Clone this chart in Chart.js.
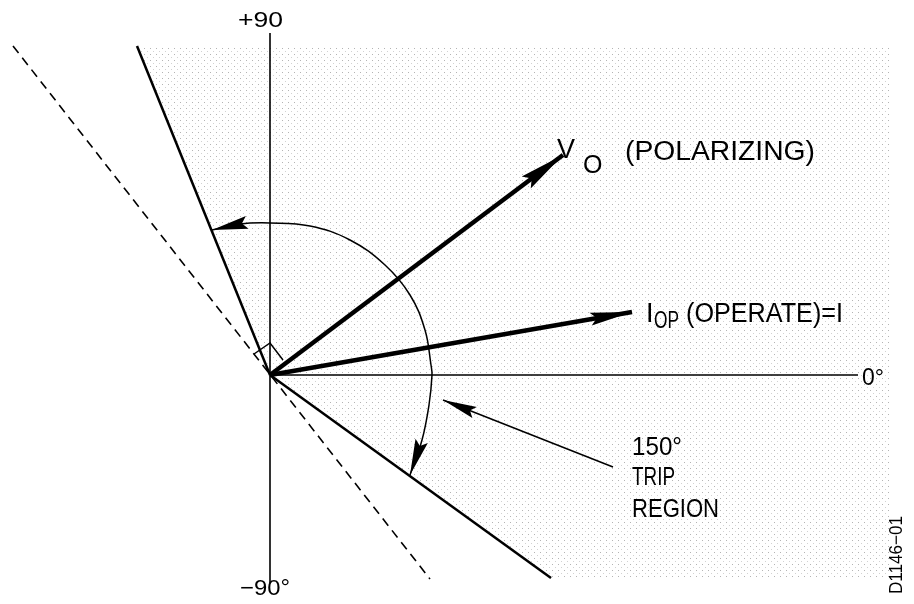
<!DOCTYPE html>
<html>
<head>
<meta charset="utf-8">
<script src="https://cdn.jsdelivr.net/npm/chart.js@4.4.1/dist/chart.umd.min.js"></script>
<style>
  html, body { margin: 0; padding: 0; background: #fff; }
  #wrap { width: 914px; height: 604px; }
</style>
</head>
<body>
<div id="wrap"><canvas id="c"></canvas></div>
<script>
// phasor diagram, origin at the vertex, x right / y up
const hAxis      = [[0, 0], [588, 0]]
const vAxis      = [[0, 342], [0, -208]]
const tripUpper  = [[-133, 329], [0, 0]]
const tripLower  = [[0, 0], [281, -203]]
const zeroTorque = [[-257, 329], [160, -204]]
const vPol       = [[0, 0], [293, 220]]
const iOp        = [[0, 0], [362, 63]]
const tripArc    = [[-58, 145], [-30, 151], [0, 152], [40, 149], [80, 135], [115, 110], [140, 80],
                    [155, 45], [161, 10], [162, 0], [159, -30], [152, -65], [140, -100]]
const pointer    = [[343, -92], [173, -25]]
const rightAngle = [[-16, 21], [0, 32], [13, 15]]
const tripRegion = [[-133, 329], [620, 329], [620, -203], [281, -203], [0, 0]]

// text labels: left x, baseline y (data units)
const labels = [
  { t: "+90", x: -32, y: 348, size: 22, w: 45 },
  { t: "V", x: 287, y: 217, size: 27 },
  { t: "O", x: 313, y: 202, size: 25 },
  { t: "(POLARIZING)", x: 355, y: 215, size: 27, w: 190 },
  { t: "I", x: 376, y: 53, size: 27 },
  { t: "OP", x: 384, y: 47, size: 23, w: 25 },
  { t: "(OPERATE)=I", x: 416, y: 53, size: 27, w: 157 },
  { t: "0°", x: 592, y: -10, size: 23 },
  { t: "150°", x: 362, y: -80, size: 26, w: 50 },
  { t: "TRIP", x: 362, y: -110, size: 26, w: 43 },
  { t: "REGION", x: 362, y: -142, size: 26, w: 87 },
  { t: "−90°", x: -30, y: -220, size: 22, w: 50 },
  { t: "D1146−01", x: 627, y: -180, size: 18, w: 78, rot: true }
]

const pts = a => a.map(p => ({ x: p[0], y: p[1] }))

// stipple for the trip region
function stipple() {
  const c = document.createElement("canvas")
  c.width = 6; c.height = 6
  const g = c.getContext("2d")
  g.fillStyle = "#fff"; g.fillRect(0, 0, 6, 6)
  g.fillStyle = "#b4b4b4"; g.fillRect(0, 0, 1, 1)
  g.fillStyle = "#d2d2d2"; g.fillRect(3, 3, 1, 1)
  return g.createPattern(c, "repeat")
}

function line(data, width, extra) {
  return Object.assign({
    data: pts(data), showLine: true, pointRadius: 0, borderColor: "#000",
    borderWidth: width, fill: false, tension: 0
  }, extra || {})
}

const arrowPlugin = {
  id: "arrows",
  afterDatasetsDraw(chart) {
    const ctx = chart.ctx
    chart.data.datasets.forEach((ds, i) => {
      if (!ds.arrow) return
      const els = chart.getDatasetMeta(i).data
      const heads = []
      if (ds.arrow.end) heads.push([els[els.length - 2], els[els.length - 1]])
      if (ds.arrow.start) heads.push([els[1], els[0]])
      heads.forEach(([a, b]) => {
        const ang = Math.atan2(b.y - a.y, b.x - a.x)
        const L = ds.arrow.len, W = ds.arrow.wid / 2
        ctx.save()
        ctx.translate(b.x, b.y)
        ctx.rotate(ang)
        ctx.beginPath()
        ctx.moveTo(0, 0)
        ctx.lineTo(-L, -W)
        ctx.lineTo(-L * 0.85, 0)
        ctx.lineTo(-L, W)
        ctx.closePath()
        ctx.fillStyle = "#000"
        ctx.fill()
        ctx.restore()
      })
    })
  }
}

const textPlugin = {
  id: "texts",
  afterDraw(chart) {
    const ctx = chart.ctx
    const xs = chart.scales.x, ys = chart.scales.y
    labels.forEach(l => {
      const px = xs.getPixelForValue(l.x), py = ys.getPixelForValue(l.y)
      ctx.save()
      ctx.font = l.size + 'px "Liberation Sans", Arial, sans-serif'
      ctx.fillStyle = "#000"
      ctx.textBaseline = "alphabetic"
      ctx.translate(px, py)
      if (l.rot) {
        ctx.rotate(-Math.PI / 2)
        ctx.textAlign = "center"
        ctx.textBaseline = "middle"
      }
      if (l.w) {
        const m = ctx.measureText(l.t).width
        ctx.scale(l.w / m, 1)
      }
      ctx.fillText(l.t, 0, 0)
      ctx.restore()
    })
  }
}

new Chart(document.getElementById("c"), {
  type: "scatter",
  data: {
    datasets: [
      line(vPol, 4.5, { arrow: { end: true, len: 46, wid: 15 } }),
      line(iOp, 4.5, { arrow: { end: true, len: 42, wid: 13 } }),
      line(tripArc, 1.5, { tension: 0.4, arrow: { start: true, end: true, len: 36, wid: 13 } }),
      line(pointer, 1.5, { arrow: { end: true, len: 34, wid: 12 } }),
      line(rightAngle, 1.5),
      line(tripUpper, 2.5),
      line(tripLower, 2.5),
      line(zeroTorque, 1.6, { borderDash: [9, 6] }),
      line(hAxis, 1.6),
      line(vAxis, 1.6),
      line(tripRegion, 0, { fill: "shape", backgroundColor: stipple(), borderColor: "rgba(0,0,0,0)", order: 10 })
    ]
  },
  options: {
    responsive: true,
    maintainAspectRatio: false,
    animation: false,
    layout: { padding: 0 },
    plugins: { legend: { display: false }, tooltip: { enabled: false } },
    scales: {
      x: { type: "linear", min: -270, max: 644, display: false },
      y: { type: "linear", min: -229, max: 375, display: false }
    }
  },
  plugins: [arrowPlugin, textPlugin]
})
</script>
</body>
</html>
